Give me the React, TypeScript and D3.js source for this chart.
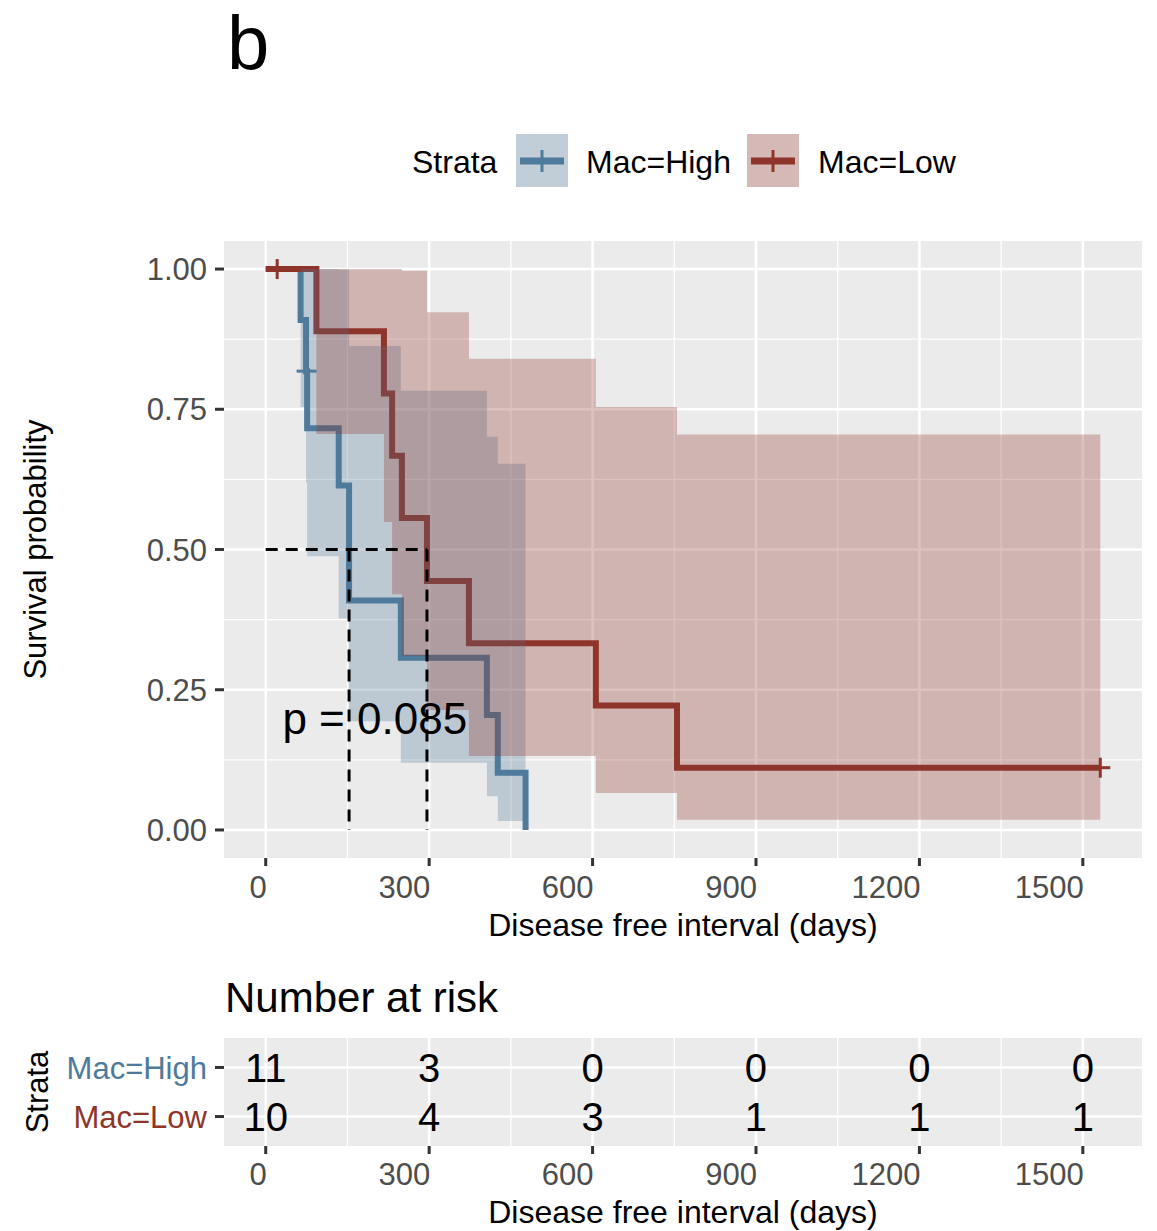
import React from "react";
import * as d3 from "d3";

// strata and colours
const strata = ["Mac=High", "Mac=Low"];
const colors = ["#4E7A9B", "#8E342A"];

// Kaplan-Meier steps (days, survival, 95% band)
const highTimes = [0, 64, 74, 76, 134, 153, 248, 406, 426, 477];
const highSurv = [1, 0.909, 0.818, 0.716, 0.614, 0.409, 0.307, 0.205, 0.102, 0];
const highUpper = [1, 1, 1, 1, 0.999, 0.863, 0.783, 0.701, 0.653, 0.653];
const highLower = [1, 0.754, 0.619, 0.488, 0.377, 0.194, 0.12, 0.06, 0.016, 0.016];

const lowTimes = [0, 93, 217, 232, 250, 296, 373, 606, 755, 1532];
const lowSurv = [1, 0.889, 0.778, 0.667, 0.556, 0.444, 0.333, 0.222, 0.111, 0.111];
const lowUpper = [1, 1, 1, 1, 0.997, 0.923, 0.84, 0.754, 0.705, 0.705];
const lowLower = [1, 0.706, 0.549, 0.42, 0.31, 0.214, 0.132, 0.066, 0.018, 0.018];

// censored observations
const highCensorTimes = [75];
const highCensorSurv = [0.818];
const lowCensorTimes = [21, 1532];
const lowCensorSurv = [1, 0.111];

// median survival (days)
const medians = [153, 296];
const pValueText = "p = 0.085";

// number at risk table
const riskTimes = [0, 300, 600, 900, 1200, 1500];
const highRisk = [11, 3, 0, 0, 0, 0];
const lowRisk = [10, 4, 3, 1, 1, 1];

const xTicks = [0, 300, 600, 900, 1200, 1500];
const xMinor = [150, 450, 750, 1050, 1350];
const yTicks = [0, 0.25, 0.5, 0.75, 1];
const yMinor = [0.125, 0.375, 0.625, 0.875];

const FONT = "'Liberation Sans', Arial, Helvetica, sans-serif";

const groups = [
  { times: highTimes, surv: highSurv, upper: highUpper, lower: highLower, cT: highCensorTimes, cS: highCensorSurv },
  { times: lowTimes, surv: lowSurv, upper: lowUpper, lower: lowLower, cT: lowCensorTimes, cS: lowCensorSurv },
];

export default function App() {
  const W = 1157;
  const H = 1231;
  const panel = { left: 224, right: 1142, top: 241, bottom: 858 };
  const risk = { top: 1038, bottom: 1146 };

  const xMax = d3.max([...highTimes, ...lowTimes]) as number;
  const pad = xMax * 0.05;
  const x = d3.scaleLinear().domain([-pad, xMax + pad]).range([panel.left, panel.right]);
  const y = d3.scaleLinear().domain([-0.05, 1.05]).range([panel.bottom, panel.top]);
  const yRisk = d3.scalePoint<string>().domain(strata).range([risk.top, risk.bottom]).padding(0.6);

  const line = d3
    .line<[number, number]>()
    .x((d) => x(d[0]))
    .y((d) => y(d[1]))
    .curve(d3.curveStepAfter);

  const area = d3
    .area<[number, number, number]>()
    .x((d) => x(d[0]))
    .y0((d) => y(d[1]))
    .y1((d) => y(d[2]))
    .curve(d3.curveStepAfter);

  const plus = (cx: number, cy: number, r: number, color: string, sw: number, key: string) => (
    <g key={key} stroke={color} strokeWidth={sw}>
      <line x1={cx - r} x2={cx + r} y1={cy} y2={cy} />
      <line x1={cx} x2={cx} y1={cy - r} y2={cy + r} />
    </g>
  );

  const maxMedian = d3.max(medians) as number;

  return (
    <div style={{ position: "absolute", left: 0, top: 0 }}>
      <svg width={W} height={H} style={{ display: "block", fontFamily: FONT }}>
        <rect width={W} height={H} fill="#ffffff" />
        <text x={227} y={69} fontSize={76} fill="#000">b</text>

        {/* legend */}
        <g fontSize={32} fill="#000">
          <text x={412} y={161} dy="0.36em">Strata</text>
          {strata.map((s, i) => {
            const bx = i === 0 ? 516 : 747;
            const tx = i === 0 ? 586 : 818;
            return (
              <g key={s}>
                <rect x={bx} y={134} width={52} height={53} fill="#F2F2F2" />
                <rect x={bx} y={134} width={52} height={53} fill={colors[i]} fillOpacity={0.3} />
                <line x1={bx + 4} x2={bx + 48} y1={161} y2={161} stroke={colors[i]} strokeWidth={7} />
                <line x1={bx + 26} x2={bx + 26} y1={150} y2={172} stroke={colors[i]} strokeWidth={3} />
                <text x={tx} y={161} dy="0.36em">{s}</text>
              </g>
            );
          })}
        </g>

        {/* survival panel */}
        <rect x={panel.left} y={panel.top} width={panel.right - panel.left} height={panel.bottom - panel.top} fill="#EBEBEB" />
        {xMinor.map((t) => (
          <line key={"xm" + t} x1={x(t)} x2={x(t)} y1={panel.top} y2={panel.bottom} stroke="#fff" strokeWidth={1.3} />
        ))}
        {yMinor.map((v) => (
          <line key={"ym" + v} x1={panel.left} x2={panel.right} y1={y(v)} y2={y(v)} stroke="#fff" strokeWidth={1.3} />
        ))}
        {xTicks.map((t) => (
          <line key={"xg" + t} x1={x(t)} x2={x(t)} y1={panel.top} y2={panel.bottom} stroke="#fff" strokeWidth={2.6} />
        ))}
        {yTicks.map((v) => (
          <line key={"yg" + v} x1={panel.left} x2={panel.right} y1={y(v)} y2={y(v)} stroke="#fff" strokeWidth={2.6} />
        ))}

        {/* curves */}
        {groups.map((g, i) => (
          <path
            key={"l" + i}
            d={line(g.times.map((t, k) => [t, g.surv[k]] as [number, number])) || ""}
            fill="none"
            stroke={colors[i]}
            strokeWidth={6}
          />
        ))}
        {/* confidence bands */}
        {groups.map((g, i) => (
          <path
            key={"b" + i}
            d={area(g.times.map((t, k) => [t, g.lower[k], g.upper[k]] as [number, number, number])) || ""}
            fill={colors[i]}
            fillOpacity={0.3}
          />
        ))}
        {/* censor marks */}
        {groups.map((g, i) =>
          g.cT.map((t, k) => plus(x(t), y(g.cS[k]), 10, colors[i], 3, `c${i}-${k}`))
        )}

        {/* median lines */}
        <g stroke="#000" strokeWidth={3} strokeDasharray="12,8" fill="none">
          <line x1={x(0)} x2={x(maxMedian)} y1={y(0.5)} y2={y(0.5)} />
          {medians.map((m) => (
            <line key={"m" + m} x1={x(m)} x2={x(m)} y1={y(0.5)} y2={y(0)} />
          ))}
        </g>

        <text x={x(xMax / 50)} y={y(0.2)} dy="0.36em" fontSize={44} fill="#000">{pValueText}</text>

        {/* y axis */}
        {yTicks.map((v) => (
          <g key={"yt" + v}>
            <line x1={215} x2={panel.left} y1={y(v)} y2={y(v)} stroke="#333" strokeWidth={3} />
            <text x={207} y={y(v)} dy="0.36em" textAnchor="end" fontSize={31} fill="#4D4D4D">
              {d3.format(".2f")(v)}
            </text>
          </g>
        ))}
        <text transform={`translate(46,${(panel.top + panel.bottom) / 2}) rotate(-90)`} textAnchor="middle" fontSize={31} fill="#000">
          Survival probability
        </text>

        {/* x axis */}
        {xTicks.map((t) => (
          <g key={"xt" + t}>
            <line x1={x(t)} x2={x(t)} y1={panel.bottom} y2={panel.bottom + 8} stroke="#333" strokeWidth={3} />
            <text x={x(t) + 1} y={887} dy="0.36em" textAnchor="end" fontSize={31} fill="#4D4D4D">{t}</text>
          </g>
        ))}
        <text x={(panel.left + panel.right) / 2} y={936} textAnchor="middle" fontSize={32} fill="#000">
          Disease free interval (days)
        </text>

        {/* risk table */}
        <text x={225} y={1012} fontSize={42} fill="#000">Number at risk</text>
        <rect x={panel.left} y={risk.top} width={panel.right - panel.left} height={risk.bottom - risk.top} fill="#EBEBEB" />
        {xMinor.map((t) => (
          <line key={"rxm" + t} x1={x(t)} x2={x(t)} y1={risk.top} y2={risk.bottom} stroke="#fff" strokeWidth={1.3} />
        ))}
        {xTicks.map((t) => (
          <line key={"rxg" + t} x1={x(t)} x2={x(t)} y1={risk.top} y2={risk.bottom} stroke="#fff" strokeWidth={2.6} />
        ))}
        {strata.map((s) => (
          <line key={"ryg" + s} x1={panel.left} x2={panel.right} y1={yRisk(s)} y2={yRisk(s)} stroke="#fff" strokeWidth={2.6} />
        ))}
        {[highRisk, lowRisk].map((row, i) =>
          row.map((n, k) => (
            <text key={`r${i}-${k}`} x={x(riskTimes[k])} y={yRisk(strata[i])} dy="0.36em" textAnchor="middle" fontSize={40} fill="#000">
              {n}
            </text>
          ))
        )}
        {strata.map((s, i) => (
          <g key={"rl" + s}>
            <line x1={215} x2={panel.left} y1={yRisk(s)} y2={yRisk(s)} stroke="#333" strokeWidth={3} />
            <text x={207} y={yRisk(s)} dy="0.36em" textAnchor="end" fontSize={31} fill={colors[i]}>{s}</text>
          </g>
        ))}
        <text transform={`translate(48,${(risk.top + risk.bottom) / 2}) rotate(-90)`} textAnchor="middle" fontSize={31} fill="#000">
          Strata
        </text>
        {xTicks.map((t) => (
          <g key={"rxt" + t}>
            <line x1={x(t)} x2={x(t)} y1={risk.bottom} y2={risk.bottom + 8} stroke="#333" strokeWidth={3} />
            <text x={x(t) + 1} y={1174} dy="0.36em" textAnchor="end" fontSize={31} fill="#4D4D4D">{t}</text>
          </g>
        ))}
        <text x={(panel.left + panel.right) / 2} y={1223} textAnchor="middle" fontSize={32} fill="#000">
          Disease free interval (days)
        </text>
      </svg>
    </div>
  );
}
